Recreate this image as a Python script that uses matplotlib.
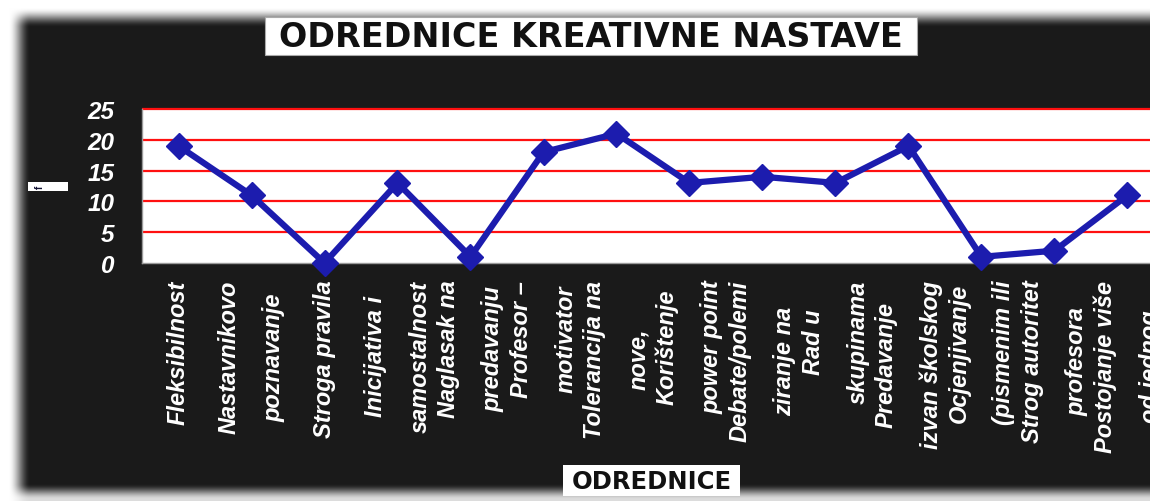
import numpy as np
import matplotlib
matplotlib.use("Agg")
import matplotlib.pyplot as plt
from matplotlib.patches import Rectangle

# ---- data ----
categories = [
    "Fleksibilnost",
    "Nastavnikovo\npoznavanje",
    "Stroga pravila",
    "Inicijativa i\nsamostalnost",
    "Naglasak na\npredavanju",
    "Profesor –\nmotivator",
    "Tolerancija na\nnove,",
    "Korištenje\npower point",
    "Debate/polemi\nziranje na",
    "Rad u\nskupinama",
    "Predavanje\nizvan školskog",
    "Ocjenjivanje\n(pismenim ili",
    "Strog autoritet\nprofesora",
    "Postojanje više\nod jednog",
]
values = [19, 11, 0, 13, 1, 18, 21, 13, 14, 13, 19, 1, 2, 11]
y_ticks = [0, 5, 10, 15, 20, 25]
title = "ODREDNICE KREATIVNE NASTAVE"
xlabel = "ODREDNICE"
ylabel = "f"

W, H = 1150, 502
DARK = 0.102
fig = plt.figure(figsize=(W / 100, H / 100), dpi=100)
fig.patch.set_facecolor("white")

# ---- background with soft shadow edges ----
bg = fig.add_axes([0, 0, 1, 1], zorder=0)
xx = np.arange(W)[None, :]
yy = np.arange(H)[:, None]
def ramp(t):
    t = np.clip(t, 0, 1)
    return t * t * (3 - 2 * t)
dark = ramp((xx - 8) / 22.0) * ramp((yy - 8) / 20.0) * (0.15 + 0.85 * ramp((500 - yy) / 16.0))
img = 1 - dark * (1 - DARK)
bg.imshow(np.dstack([img, img, img]), extent=[0, W, H, 0], aspect="auto", interpolation="bilinear")
bg.set_xlim(0, W)
bg.set_ylim(H, 0)
bg.axis("off")

# ---- main axes ----
left_px, right_px, top_px, bot_px = 142, 1164, 110, 264
ax = fig.add_axes([left_px / W, 1 - bot_px / H, (right_px - left_px) / W, (bot_px - top_px) / H], zorder=2)
ax.set_facecolor("white")
x = np.arange(len(categories))
ax.set_xlim(-0.5, len(categories) - 0.5)
ax.set_ylim(0, 25)

ax.hlines(y_ticks[1:], -0.5, len(categories) - 0.5, colors="#ff1010", linewidth=1.6, zorder=1, clip_on=False)
ax.plot(x, values, color="#1c1cae", linewidth=4.5, marker="D", markersize=13,
        markerfacecolor="#1c1cae", markeredgecolor="#1c1cae", zorder=3, clip_on=False)

for s in ["top", "right"]:
    ax.spines[s].set_visible(False)
for s in ["left", "bottom"]:
    ax.spines[s].set_color("#9a9a9a")
    ax.spines[s].set_linewidth(1.0)

tick_font = dict(family="Liberation Sans", weight="bold", style="italic")
ax.set_yticks(y_ticks)
ax.set_yticklabels([str(v) for v in y_ticks], color="white", fontsize=17.5, **tick_font)
ax.tick_params(axis="y", length=0, pad=20)
ax.set_xticks(x)
ax.set_xticklabels(categories, color="white", fontsize=17, rotation=90, va="top", ha="center",
                   multialignment="center", linespacing=2.2, **tick_font)
ax.tick_params(axis="x", length=0, pad=12)

# ---- title box ----
fig.add_artist(Rectangle((265 / W, 1 - 56 / H), (917 - 265) / W, 38 / H, transform=fig.transFigure,
                         facecolor="white", edgecolor="#aaaaaa", linewidth=0.8, zorder=3))
fig.text(591 / W, 1 - 37.5 / H, title, ha="center", va="center", fontsize=24,
         family="DejaVu Sans", weight="bold", color="#111111", zorder=4)

# ---- x label box ----
fig.add_artist(Rectangle((563 / W, 1 - 497 / H), (740 - 563) / W, 31 / H, transform=fig.transFigure,
                         facecolor="white", edgecolor="none", zorder=3))
fig.text(651.5 / W, 1 - 482 / H, xlabel, ha="center", va="center", fontsize=17.5,
         family="DejaVu Sans", weight="bold", color="#111111", zorder=4)

# ---- y label box ----
fig.add_artist(Rectangle((28 / W, 1 - 192 / H), 40 / W, 9 / H, transform=fig.transFigure,
                         facecolor="white", edgecolor="none", zorder=3))
fig.text(40 / W, 1 - 187.5 / H, ylabel, ha="center", va="center", fontsize=7, rotation=90,
         family="Liberation Sans", weight="bold", color="#111133", zorder=4)

fig.savefig("out.png", dpi=100)
